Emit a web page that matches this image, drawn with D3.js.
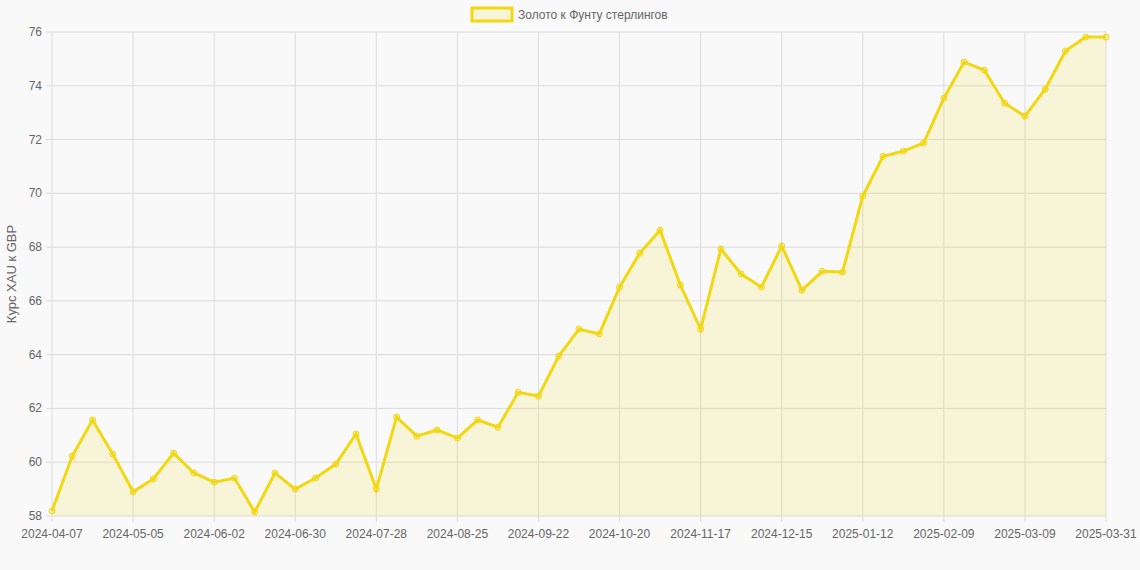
<!DOCTYPE html>
<html><head><meta charset="utf-8">
<script src="https://cdn.jsdelivr.net/npm/d3@7"></script>
<style>body{margin:0;background:#f9f9f9;font-family:"Liberation Sans",Arial,sans-serif}</style>
</head><body><svg id="c" width="1140" height="570"></svg>
<script>
// weekly points, last one is the month end
const dates = [];
for (let k = 0; k < 52; k++) {
  const d = new Date(Date.UTC(2024, 3, 7 + 7 * k));
  dates.push(d.toISOString().slice(0, 10));
}
dates.push('2025-03-31');

const values = [58.19, 60.23, 61.57, 60.3, 58.9, 59.38, 60.34, 59.6, 59.26, 59.41,
  58.15, 59.6, 59.0, 59.41, 59.93, 61.05, 59.0, 61.68, 60.97, 61.2,
  60.9, 61.57, 61.3, 62.6, 62.46, 63.95, 64.95, 64.77, 66.51, 67.78,
  68.63, 66.59, 64.95, 67.93, 67.0, 66.51, 68.04, 66.4, 67.1, 67.07,
  69.9, 71.38, 71.57, 71.87, 73.54, 74.88, 74.58, 73.35, 72.87, 73.87,
  75.29, 75.81, 75.81];

const yTicks = [58, 60, 62, 64, 66, 68, 70, 72, 74, 76];
const seriesName = 'Золото к Фунту стерлингов';
const yTitle = 'Курс XAU к GBP';

const svg = d3.select('#c');
const plotLeft = 52, plotRight = 1106, plotTop = 32, plotBottom = 516;
const lineColor = '#f2d713';

const x = d3.scalePoint().domain(dates).range([plotLeft, plotRight]);
const y = d3.scaleLinear().domain([58, 76]).range([plotBottom, plotTop]);

const shown = dates.filter((d, i) => i % 4 === 0 || i === dates.length - 1);

// grid
svg.append('g').selectAll('line').data(yTicks).join('line')
  .attr('x1', plotLeft - 6).attr('x2', plotRight)
  .attr('y1', d => y(d)).attr('y2', d => y(d))
  .attr('stroke', '#dcdcdc');
svg.append('g').selectAll('line').data(shown).join('line')
  .attr('x1', d => x(d)).attr('x2', d => x(d))
  .attr('y1', plotTop).attr('y2', plotBottom + 6)
  .attr('stroke', '#dcdcdc');

// axis labels
svg.append('g').selectAll('text').data(yTicks).join('text')
  .attr('x', plotLeft - 10).attr('y', d => y(d) + 4)
  .attr('text-anchor', 'end').attr('font-size', 12).attr('fill', '#666')
  .text(d => d);
svg.append('g').selectAll('text').data(shown).join('text')
  .attr('x', d => x(d)).attr('y', plotBottom + 22)
  .attr('text-anchor', 'middle').attr('font-size', 12).attr('fill', '#666')
  .text(d => d);

svg.append('text')
  .attr('transform', `translate(16,${(plotTop + plotBottom) / 2}) rotate(-90)`)
  .attr('text-anchor', 'middle').attr('font-size', 13).attr('fill', '#666')
  .text(yTitle);

// area + line
svg.append('path').datum(values)
  .attr('d', d3.area().x((d, i) => x(dates[i])).y0(plotBottom).y1(d => y(d)))
  .attr('fill', 'rgba(242,215,19,0.15)');
svg.append('path').datum(values)
  .attr('d', d3.line().x((d, i) => x(dates[i])).y(d => y(d)))
  .attr('fill', 'none').attr('stroke', lineColor).attr('stroke-width', 3);
svg.append('g').selectAll('circle').data(values).join('circle')
  .attr('cx', (d, i) => x(dates[i])).attr('cy', d => y(d)).attr('r', 3)
  .attr('fill', 'rgba(242,215,19,0.3)').attr('stroke', lineColor).attr('stroke-width', 1);

// legend
const lg = svg.append('g');
lg.append('rect').attr('x', 472).attr('y', 8).attr('width', 40).attr('height', 13)
  .attr('fill', 'rgba(242,215,19,0.15)').attr('stroke', lineColor).attr('stroke-width', 3);
lg.append('text').attr('x', 518).attr('y', 19).attr('font-size', 12).attr('fill', '#666')
  .text(seriesName);
</script></body></html>
